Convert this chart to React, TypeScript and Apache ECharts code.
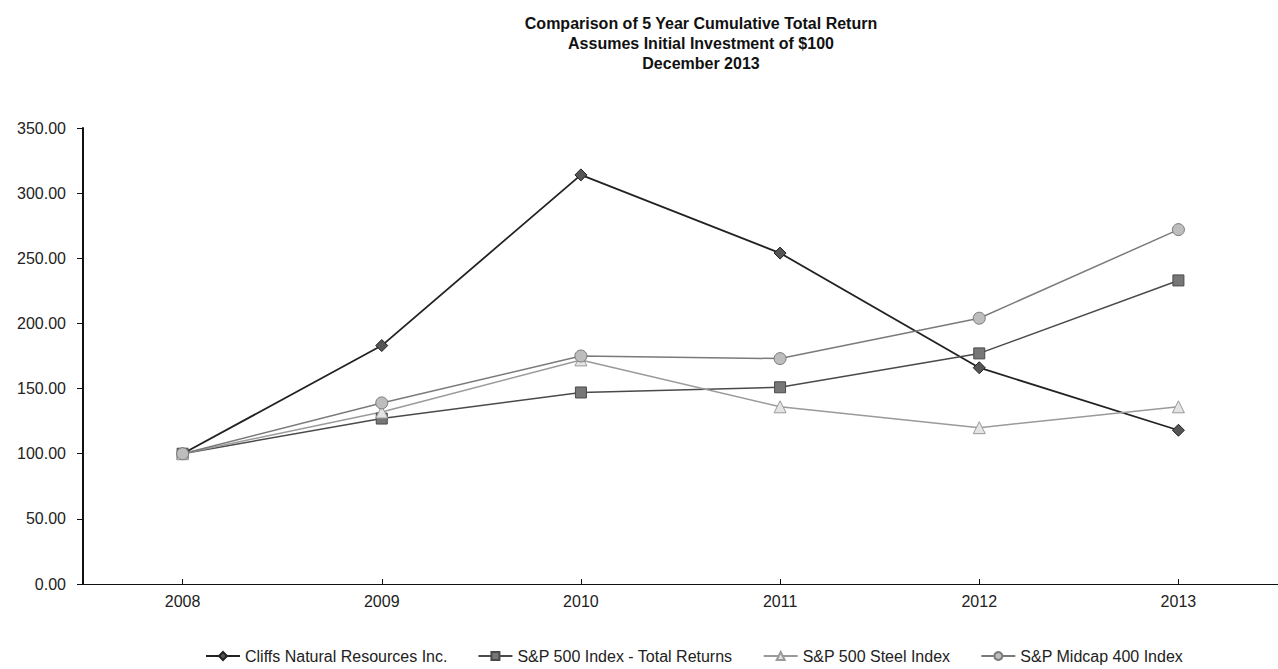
import React, { useEffect, useRef } from "react";
import * as echarts from "echarts";

const years = ["2008", "2009", "2010", "2011", "2012", "2013"];
const cliffs = [100, 183, 314, 254, 166, 118];
const sp500 = [100, 127, 147, 151, 177, 233];
const steel = [100, 132, 172, 136, 120, 136];
const midcap = [100, 139, 175, 173, 204, 272];
const seriesNames = [
  "Cliffs Natural Resources Inc.",
  "S&P 500 Index - Total Returns",
  "S&P 500 Steel Index",
  "S&P Midcap 400 Index",
];

const FONT = "'Liberation Sans', Arial, sans-serif";

export default function App() {
  const ref = useRef<HTMLDivElement>(null);
  useEffect(() => {
    if (!ref.current) return;
    const chart = echarts.init(ref.current, undefined, { renderer: "svg" });
    const mk = (name: string, data: number[], color: string, symbol: string, size: number, width: number, fill: string) => ({
      name,
      type: "line",
      data,
      symbol,
      symbolSize: size,
      showAllSymbol: true,
      lineStyle: { color, width },
      itemStyle: { color: fill, borderColor: color, borderWidth: 1 },
      emphasis: { disabled: true },
    });
    chart.setOption({
      animation: false,
      backgroundColor: "#ffffff",
      title: {
        text: "Comparison of 5 Year Cumulative Total Return\nAssumes Initial Investment of $100\nDecember 2013",
        left: 696,
        textAlign: "center",
        top: 8,
        textStyle: { fontFamily: FONT, fontSize: 16, fontWeight: "bold", color: "#111", lineHeight: 20 },
      },
      grid: { left: 83, right: 0, top: 128, bottom: 85, containLabel: false },
      xAxis: {
        type: "category",
        data: years,
        boundaryGap: true,
        axisLine: { lineStyle: { color: "#111", width: 1 } },
        axisTick: { show: true, alignWithLabel: true, inside: true, length: 5, lineStyle: { color: "#111" } },
        axisLabel: { fontFamily: FONT, fontSize: 16, color: "#222", margin: 9 },
        splitLine: { show: false },
      },
      yAxis: {
        type: "value",
        min: 0,
        max: 350,
        interval: 50,
        axisLine: { show: true, lineStyle: { color: "#111", width: 2 } },
        axisTick: { show: true, length: 6, lineStyle: { color: "#111" } },
        axisLabel: {
          fontFamily: FONT,
          fontSize: 16,
          color: "#222",
          margin: 17,
          formatter: (v: number) => v.toFixed(2),
        },
        splitLine: { show: false },
      },
      legend: {
        top: 643,
        left: 200,
        itemWidth: 34,
        itemHeight: 10,
        itemGap: 30,
        textStyle: { fontFamily: FONT, fontSize: 16, color: "#222" },
        data: seriesNames,
      },
      series: [
        mk(seriesNames[0], cliffs, "#222222", "diamond", 12, 1.8, "#555555"),
        mk(seriesNames[1], sp500, "#4a4a4a", "rect", 11, 1.5, "#777777"),
        mk(seriesNames[2], steel, "#9a9a9a", "triangle", 12, 1.5, "#e4e4e4"),
        mk(seriesNames[3], midcap, "#7a7a7a", "circle", 12, 1.5, "#bdbdbd"),
      ],
    });
    return () => chart.dispose();
  }, []);
  return <div ref={ref} style={{ position: "fixed", left: 0, top: 0, width: 1278, height: 669 }} />;
}
